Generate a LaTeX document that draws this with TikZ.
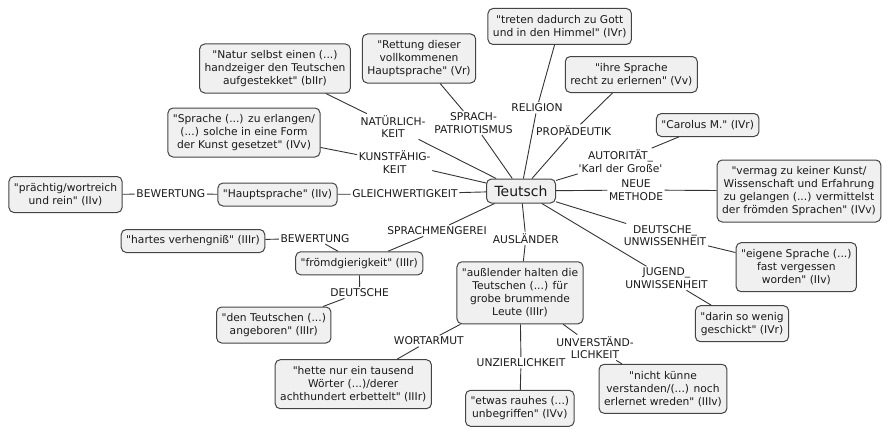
\documentclass[tikz,border=0pt]{standalone}
\usepackage{fontspec}
\newfontfamily\dv{DejaVu Sans}
\definecolor{boxfill}{HTML}{F0F0F0}
\definecolor{boxline}{HTML}{444444}
\definecolor{conn}{HTML}{333333}
\definecolor{txt}{HTML}{1A1A1A}
\begin{document}
\begin{tikzpicture}[x=1pt,y=-1pt,
  concept/.style={draw=boxline,fill=boxfill,rounded corners=5pt,line width=1pt,
    align=center,font=\dv\fontsize{10.7}{13}\selectfont,text=txt,inner xsep=5pt,inner ysep=3pt},
  one/.style={concept,minimum height=23pt},
  two/.style={concept,minimum height=36pt},
  three/.style={concept,minimum height=49pt},
  four/.style={concept,minimum height=62pt},
  lbl/.style={align=center,font=\dv\fontsize{10.7}{12.5}\selectfont,text=txt,inner sep=1.5pt},
  conline/.style={draw=conn,line width=0.9pt}]
\useasboundingbox (0,0) rectangle (882,428);

% concepts
\node[concept,font=\dv\fontsize{14}{15}\selectfont,minimum height=24pt,minimum width=69pt] (teutsch) at (521,191) {Teutsch};
\node[three] (natur) at (275,68.5) {"Natur selbst einen (...)\\handzeiger den Teutschen\\aufgestekket" (bIIr)};
\node[three] (rettung) at (419,58.5) {"Rettung dieser\\vollkommenen\\Hauptsprache" (Vr)};
\node[two] (treten) at (559.7,26.5) {"treten dadurch zu Gott\\und in den Himmel" (IVr)};
\node[two] (ihre) at (631.3,74.5) {"ihre Sprache\\recht zu erlernen" (Vv)};
\node[one] (carolus) at (707.7,125) {"Carolus M." (IVr)};
\node[four] (vermag) at (799,191) {"vermag zu keiner Kunst/\\Wissenschaft und Erfahrung\\zu gelangen (...) vermittelst\\der frömden Sprachen" (IVv)};
\node[three] (sprache) at (244,132.5) {"Sprache (...) zu erlangen/\\(...) solche in eine Form\\der Kunst gesetzet" (IVv)};
\node[two] (praechtig) at (65.5,194.5) {"prächtig/wortreich\\und rein" (IIv)};
\node[one] (haupt) at (277.5,194.5) {"Hauptsprache" (IIv)};
\node[one] (hartes) at (193,241) {"hartes verhengniß" (IIIr)};
\node[one] (froemd) at (359.3,263.3) {"frömdgierigkeit" (IIIr)};
\node[two] (angeboren) at (273.8,325) {"den Teutschen (...)\\angeboren" (IIIr)};
\node[three] (hette) at (353.3,384.2) {"hette nur ein tausend\\Wörter (...)/derer\\achthundert erbettelt" (IIIr)};
\node[four] (aussl) at (520,292.8) {"außlender halten die\\Teutschen (...) für\\grobe brummende\\Leute (IIIr)};
\node[two] (etwas) at (519.8,408.3) {"etwas rauhes (...)\\unbegriffen" (IVv)};
\node[three] (nicht) at (663,388.8) {"nicht künne\\verstanden/(...) noch\\erlernet wreden" (IIIv)};
\node[two] (darin) at (742,323.7) {"darin so wenig\\geschickt" (IVr)};
\node[three] (eigene) at (796.3,267.2) {"eigene Sprache (...)\\fast vergessen\\worden" (IIv)};

% linking phrases
\node[lbl] (lnatur) at (393,126.5) {NATÜRLICH-\\KEIT};
\node[lbl] (lkunst) at (394.7,162) {KUNSTFÄHIG-\\KEIT};
\node[lbl] (lgleich) at (405,194) {GLEICHWERTIGKEIT};
\node[lbl] (lbew1) at (170.8,194) {BEWERTUNG};
\node[lbl] (lsprpat) at (473.5,123) {SPRACH-\\PATRIOTISMUS};
\node[lbl] (lrel) at (537,107.7) {RELIGION};
\node[lbl] (lprop) at (573.7,131) {PROPÄDEUTIK};
\node[lbl] (laut) at (620.5,161) {AUTORITÄT\_\\'Karl der Große'};
\node[lbl] (lneue) at (636,190) {NEUE\\METHODE};
\node[lbl] (ldtunw) at (665,235.5) {DEUTSCHE\_\\UNWISSENHEIT};
\node[lbl] (ljug) at (666.5,278.3) {JUGEND\_\\UNWISSENHEIT};
\node[lbl] (lausl) at (525.8,238.3) {AUSLÄNDER};
\node[lbl] (lsprm) at (437,230.7) {SPRACHMENGEREI};
\node[lbl] (lbew2) at (315,238.3) {BEWERTUNG};
\node[lbl] (ldeut) at (359.7,292.7) {DEUTSCHE};
\node[lbl] (lwort) at (428.8,341) {WORTARMUT};
\node[lbl] (lunz) at (521,362.7) {UNZIERLICHKEIT};
\node[lbl] (lunv) at (595,347.5) {UNVERSTÄND-\\LICHKEIT};

% connectors
\draw[conline] (teutsch) -- (lnatur) -- (natur);
\draw[conline] (teutsch) -- (lkunst) -- (sprache);
\draw[conline] (teutsch) -- (lgleich) -- (haupt);
\draw[conline] (haupt) -- (lbew1) -- (praechtig);
\draw[conline] (teutsch) -- (lsprpat) -- (rettung);
\draw[conline] (teutsch) -- (lrel) -- (treten);
\draw[conline] (teutsch) -- (lprop) -- (ihre);
\draw[conline] (teutsch) -- (laut) -- (carolus);
\draw[conline] (teutsch) -- (lneue) -- (vermag);
\draw[conline] (teutsch) -- (ldtunw) -- (eigene);
\draw[conline] (teutsch) -- (ljug) -- (darin);
\draw[conline] (teutsch) -- (lausl) -- (aussl);
\draw[conline] (teutsch) -- (lsprm) -- (froemd);
\draw[conline] (froemd) -- (lbew2) -- (hartes);
\draw[conline] (froemd) -- (ldeut) -- (angeboren);
\draw[conline] (aussl) -- (lwort) -- (hette);
\draw[conline] (aussl) -- (lunz) -- (etwas);
\draw[conline] (aussl) -- (lunv) -- (nicht);
\end{tikzpicture}
\end{document}
